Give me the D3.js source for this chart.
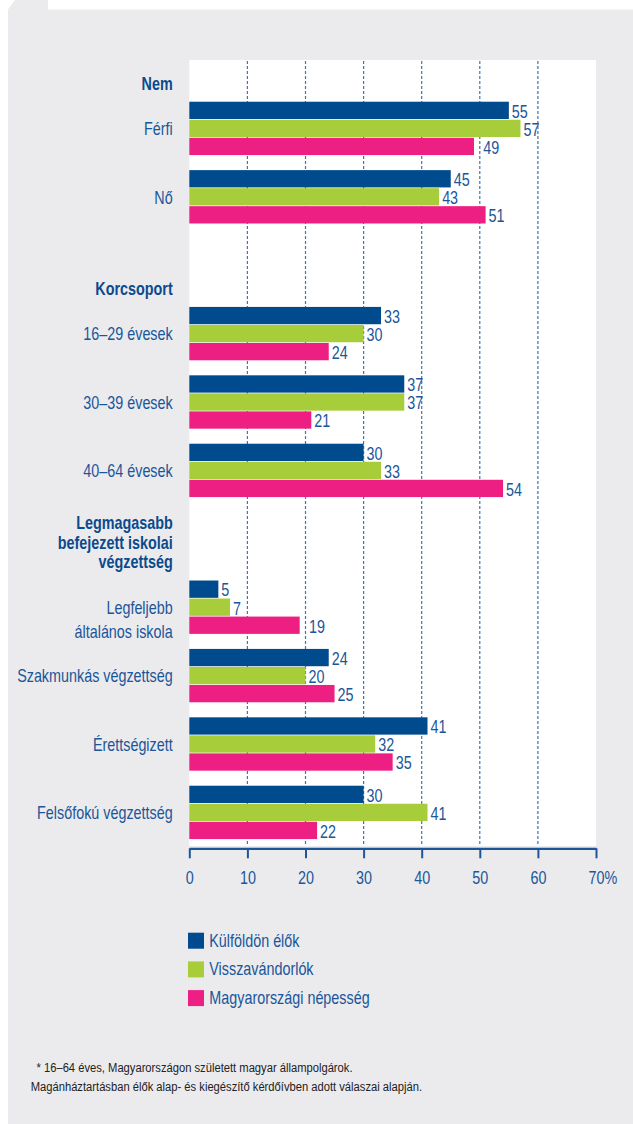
<!DOCTYPE html>
<html>
<head>
<meta charset="utf-8">
<script src="https://cdn.jsdelivr.net/npm/d3@7"></script>
<style>
  html, body { margin: 0; padding: 0; background: #ffffff; }
  svg { display: block; }
  text { font-family: 'Liberation Sans', Arial, sans-serif; }
</style>
</head>
<body>
<svg id="chart" width="633" height="1124"></svg>
<script>
// ---------- data ----------
const groupHeaders = ["Nem", "Korcsoport", "Legmagasabb\nbefejezett iskolai\nvégzettség"];
const categories = ["Férfi", "Nő", "16–29 évesek", "30–39 évesek", "40–64 évesek",
  "Legfeljebb\náltalános iskola", "Szakmunkás végzettség", "Érettségizett", "Felsőfokú végzettség"];
const categoryGroup = [0, 0, 1, 1, 1, 2, 2, 2, 2];
const seriesNames = ["Külföldön élők", "Visszavándorlók", "Magyarországi népesség"];
const kulfoldonElok   = [55, 45, 33, 37, 30, 5, 24, 41, 30];
const visszavandorlok = [57, 43, 30, 37, 33, 7, 20, 32, 41];
const magyarorszagi   = [49, 51, 24, 21, 54, 19, 25, 35, 22];
const xTicks = [0, 10, 20, 30, 40, 50, 60, 70];
const footnotes = ["* 16–64 éves, Magyarországon született magyar állampolgárok.",
  "Magánháztartásban élők alap- és kiegészítő kérdőívben adott válaszai alapján."];

const seriesValues = [kulfoldonElok, visszavandorlok, magyarorszagi];
const colors = ["#004b8d", "#a8cd3a", "#ee1f83"];

// build row list (headers + categories)
const rows = [];
groupHeaders.forEach((h, gi) => {
  rows.push({id: "h" + gi, type: "header", label: h});
  categories.forEach((c, ci) => {
    if (categoryGroup[ci] === gi) rows.push({id: "c" + ci, type: "cat", label: c, ci});
  });
});

// ---------- layout ----------
const SX = 0.78; // horizontal condensing of the sans font
const svg = d3.select("#chart");
const textBlue = "#1a5698";
const headBlue = "#0b4a8c";

function narrowText(parent, x, y, str, opts = {}) {
  return parent.append("text")
    .attr("transform", `translate(${x},${y}) scale(${opts.sx || SX},1)`)
    .attr("text-anchor", opts.anchor || "start")
    .attr("font-size", opts.size || 18.4)
    .attr("font-weight", opts.weight || "normal")
    .attr("fill", opts.fill || textBlue)
    .text(str);
}

// background panel & tab
svg.append("path")
  .attr("d", "M8,9.5 L15,0 L48,0 L48,9.5 L633,9.5 L633,1124 L8,1124 Z")
  .attr("fill", "#ebebee");

const x = d3.scaleLinear().domain([0, 70]).range([189.3, 596]);
const y = d3.scaleBand().domain(rows.map(r => r.id)).range([25.8, 846.6])
  .paddingInner(0.22).paddingOuter(0.11);
const ySub = d3.scaleBand().domain(seriesNames).range([0, y.bandwidth()]).paddingInner(0.04);

// white plot area
svg.append("rect")
  .attr("x", x(0)).attr("y", 60)
  .attr("width", x(70) - x(0)).attr("height", 846 - 60)
  .attr("fill", "#ffffff");

// gridlines
svg.append("g").selectAll("line")
  .data(xTicks.filter(d => d > 0 && d < 70))
  .join("line")
  .attr("x1", d => x(d)).attr("x2", d => x(d))
  .attr("y1", 61).attr("y2", 846)
  .attr("stroke", "#3f74b0").attr("stroke-width", 1.2)
  .attr("stroke-dasharray", "3,2");

// bars
const catRows = rows.filter(r => r.type === "cat");
const barData = [];
catRows.forEach(r => {
  seriesNames.forEach((s, si) => {
    barData.push({row: r.id, series: s, si, value: seriesValues[si][r.ci]});
  });
});

svg.append("g").selectAll("rect")
  .data(barData)
  .join("rect")
  .attr("x", x(0))
  .attr("y", d => y(d.row) + ySub(d.series))
  .attr("width", d => x(d.value) - x(0))
  .attr("height", ySub.bandwidth())
  .attr("fill", d => colors[d.si]);

// value labels
const grid = xTicks.filter(d => d > 0 && d < 70).map(d => x(d));
const valG = svg.append("g");
barData.forEach(d => {
  let px = x(d.value) + 3;
  grid.forEach(g => { if (px < g && g - px < 4) px = g + 3.5; });
  const py = y(d.row) + ySub(d.series) + ySub.bandwidth() / 2 + 7.3;
  narrowText(valG, px, py, d.value);
});

// row labels
const labelX = 172.7;
const labG = svg.append("g");
rows.forEach(r => {
  const lines = r.label.split("\n");
  const cy = y(r.id) + y.bandwidth() / 2;
  if (r.type === "header") {
    const lastBase = cy + 29.5;
    lines.forEach((ln, i) => {
      narrowText(labG, labelX, lastBase - (lines.length - 1 - i) * 19.5, ln,
        {anchor: "end", weight: "bold", fill: headBlue});
    });
  } else {
    lines.forEach((ln, i) => {
      narrowText(labG, labelX, cy + 6.7 + i * 24.3, ln, {anchor: "end"});
    });
  }
});

// axis
const axis = d3.axisBottom(x).tickValues(xTicks).tickSize(10).tickSizeOuter(0)
  .tickPadding(13).tickFormat(d => d);
const ax = svg.append("g").attr("transform", "translate(0,848.3)").call(axis);
ax.select(".domain").attr("stroke", "#1d5698").attr("stroke-width", 2.3);
ax.selectAll(".tick line").attr("stroke", "#1d5698").attr("stroke-width", 2);
ax.selectAll(".tick text")
  .attr("font-size", 18.4)
  .attr("font-family", "'Liberation Sans', Arial, sans-serif")
  .attr("fill", textBlue)
  .attr("transform", `scale(${SX},1)`);
const lastTick = ax.selectAll(".tick text").filter(d => d === 70);
const w70 = lastTick.node().getComputedTextLength();
lastTick.attr("text-anchor", "start").attr("x", -w70 / 2).text("70%");

// legend
const legend = svg.append("g");
seriesNames.forEach((s, i) => {
  const ly = 932.7 + i * 28.7;
  legend.append("rect").attr("x", 188).attr("y", ly).attr("width", 16).attr("height", 16)
    .attr("fill", colors[i]);
  narrowText(legend, 209.3, ly + 14, s);
});

// footnotes
narrowText(svg, 36.5, 1071.5, footnotes[0], {size: 13.5, sx: 0.83, fill: "#222222"});
narrowText(svg, 30.7, 1090.5, footnotes[1], {size: 13.5, sx: 0.83, fill: "#222222"});
</script>
</body>
</html>
